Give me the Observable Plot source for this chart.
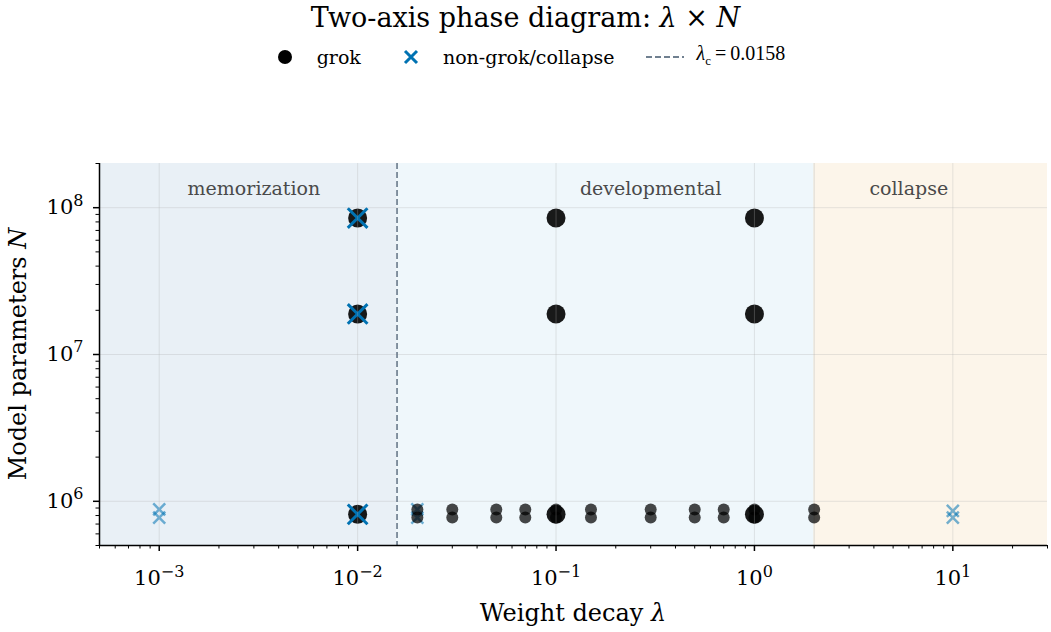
<!DOCTYPE html>
<html><head><meta charset="utf-8">
<script src="https://cdn.jsdelivr.net/npm/d3@7"></script>
<script src="https://cdn.jsdelivr.net/npm/@observablehq/plot@0.6"></script>
<style>
body{margin:0;background:#fff;font-family:"DejaVu Serif",serif;color:#000}
#wrap{position:relative;width:1051px;height:632px;overflow:hidden}
#title{position:absolute;top:0;left:0;width:1051px;text-align:center;font-family:"DejaVu Serif",serif;font-size:27px;line-height:36px}
#legend{position:absolute;top:40px;left:0;width:1051px;display:flex;justify-content:center;align-items:center;font-family:"DejaVu Serif",serif;font-size:19px;line-height:26px}
#legend .item{display:flex;align-items:center;margin:0 15.5px}
#legend svg{margin-right:13px}
#legend .math{font-family:"Liberation Serif",serif;font-size:20px}
#chart{position:absolute;top:80px;left:0}
</style></head>
<body><div id="wrap">
<div id="title">Two-axis phase diagram: <i>λ</i> × <i>N</i></div>
<div id="legend"></div>
<div id="chart"></div>
</div>
<script>
// ---- data ----
const xDomain = [5e-4, 30];
const yDomain = [5e5, 2e8];
const xTicks = [1e-3, 1e-2, 1e-1, 1, 10];
const xTickLabels = ["10⁻³", "10⁻²", "10⁻¹", "10⁰", "10¹"];
const yTicks = [1e6, 1e7, 1e8];
const yTickLabels = ["10⁶", "10⁷", "10⁸"];
const lambdaC = 0.0158;

const regionNames = ["memorization", "developmental", "collapse"];
const regionStart = [5e-4, 0.0158, 2];
const regionEnd = [0.0158, 2, 30];
const regionColors = ["#e9f0f6", "#eff7fb", "#fcf5ea"];
const regionLabelX = [0.003, 0.3, 6];
const regionLabelN = 1.35e8;

// width sweep (small markers)
const sweepGrokLambda = [0.02,0.02,0.03,0.03,0.05,0.05,0.07,0.07,0.1,0.1,0.15,0.15,0.3,0.3,0.5,0.5,0.7,0.7,1,1,2,2];
const sweepGrokN      = [8.8e5,7.75e5,8.8e5,7.75e5,8.8e5,7.75e5,8.8e5,7.75e5,8.8e5,7.75e5,8.8e5,7.75e5,8.8e5,7.75e5,8.8e5,7.75e5,8.8e5,7.75e5,8.8e5,7.75e5,8.8e5,7.75e5];
const sweepFailLambda = [0.001,0.001,0.02,0.02,10,10];
const sweepFailN      = [8.8e5,7.75e5,8.8e5,7.75e5,8.6e5,7.75e5];

// size grid (large markers)
const gridGrokLambda = [0.01,0.01,0.01,0.1,0.1,0.1,1,1,1];
const gridGrokN      = [8.15e5,1.89e7,8.5e7,8.15e5,1.89e7,8.5e7,8.15e5,1.89e7,8.5e7];
const gridFailLambda = [0.01,0.01,0.01];
const gridFailN      = [8.15e5,1.89e7,8.5e7];

// ---- build ----
const pts = (L, N) => L.map((l, i) => ({lambda: l, N: N[i]}));
const regions = regionNames.map((n, i) => ({name: n, x1: regionStart[i], x2: regionEnd[i], color: regionColors[i], lx: regionLabelX[i]}));
const xFmt = new Map(xTicks.map((t, i) => [t, xTickLabels[i]]));
const yFmt = new Map(yTicks.map((t, i) => [t, yTickLabels[i]]));
const minor = (lo, hi) => { const out = []; for (let e = -6; e <= 9; e++) for (let m = 2; m <= 9; m++) { const v = m * Math.pow(10, e); if (v >= lo * 0.999 && v <= hi * 1.001) out.push(+v.toPrecision(3)); } return out; };
const xMinor = minor(xDomain[0], xDomain[1]);
const yMinor = minor(yDomain[0], yDomain[1]);

const BLUE = "#0072B2";
const W = 1051, H = 552;
const plot = Plot.plot({
  width: W, height: H,
  marginLeft: 99, marginRight: 4, marginTop: 83, marginBottom: 87,
  style: {fontFamily: "DejaVu Serif", fontSize: "21px", background: "transparent", color: "#000"},
  x: {type: "log", domain: xDomain},
  y: {type: "log", domain: yDomain},
  marks: [
    Plot.rect(regions, {x1: "x1", x2: "x2", fill: "color"}),
    Plot.ruleX([regionStart[2]], {stroke: "#e6e2da", strokeWidth: 1.5}),
    Plot.text(regions, {x: "lx", y: () => regionLabelN, text: "name", fill: "#4a4a4a", fontSize: 19}),
    Plot.dot(pts(sweepFailLambda, sweepFailN), {x: "lambda", y: "N", r: 5.5, symbol: "times", stroke: BLUE, strokeWidth: 2.5, strokeOpacity: 0.55}),
    Plot.dot(pts(sweepGrokLambda, sweepGrokN), {x: "lambda", y: "N", r: 6, fill: "#000", fillOpacity: 0.72, stroke: "none"}),
    Plot.dot(pts(gridGrokLambda, gridGrokN), {x: "lambda", y: "N", r: 9.5, fill: "#000", fillOpacity: 0.9, stroke: "none"}),
    Plot.dot(pts(gridFailLambda, gridFailN), {x: "lambda", y: "N", r: 9, symbol: "times", stroke: BLUE, strokeWidth: 3}),
    Plot.gridX(xTicks, {stroke: "#b0b0b0", strokeOpacity: 0.3, strokeWidth: 1}),
    Plot.gridY(yTicks, {stroke: "#b0b0b0", strokeOpacity: 0.3, strokeWidth: 1}),
    Plot.ruleX([lambdaC], {stroke: "#708090", strokeOpacity: 0.95, strokeWidth: 1.8, strokeDasharray: "6,3"}),
    Plot.ruleX([xDomain[0]], {stroke: "#000", strokeWidth: 1.5}),
    Plot.ruleY([yDomain[0]], {stroke: "#000", strokeWidth: 1.5}),
    Plot.axisX(xMinor, {tickSize: 3.5, strokeWidth: 1, tickFormat: () => "", label: null}),
    Plot.axisX(xTicks, {tickSize: 6, strokeWidth: 1.5, tickPadding: 19, tickFormat: d => xFmt.get(d), label: null, fontSize: 21}),
    Plot.axisY(yMinor, {tickSize: 3.5, strokeWidth: 1, tickFormat: () => "", label: null}),
    Plot.axisY(yTicks, {tickSize: 6, strokeWidth: 1.5, tickPadding: 10, tickFormat: d => yFmt.get(d), label: null, fontSize: 21})
  ]
});
document.getElementById("chart").appendChild(plot);

const svg = d3.select(plot);
// render unicode superscripts as real superscript tspans
const supMap = {"⁻":"−","⁰":"0","¹":"1","²":"2","³":"3","⁴":"4","⁵":"5","⁶":"6","⁷":"7","⁸":"8","⁹":"9"};
svg.selectAll("text").each(function () {
  const t = this.textContent;
  const m = /^10([⁻⁰¹²³⁴⁵⁶⁷⁸⁹]+)$/.exec(t);
  if (!m) return;
  const sup = [...m[1]].map(c => supMap[c]).join("");
  this.textContent = "";
  const s = d3.select(this);
  s.append("tspan").text("10");
  s.append("tspan").attr("font-size", 16).attr("dy", "-0.55em").text(sup);
});

// axis titles with italic math symbols
const xl = svg.append("text").attr("x", 573).attr("y", 533).attr("text-anchor", "middle").attr("dy", "0.35em")
  .attr("font-family", "DejaVu Serif").attr("font-size", 24).attr("fill", "#000");
xl.append("tspan").text("Weight decay ");
xl.append("tspan").attr("font-style", "italic").text("λ");
const yl = svg.append("text").attr("transform", "translate(18,274) rotate(-90)").attr("text-anchor", "middle").attr("dy", "0.35em")
  .attr("font-family", "DejaVu Serif").attr("font-size", 24).attr("fill", "#000");
yl.append("tspan").text("Model parameters ");
yl.append("tspan").attr("font-style", "italic").text("N");

// legend
const leg = document.getElementById("legend");
const items = [
  {svg: `<svg width="38" height="16"><circle cx="19" cy="8" r="7" fill="#000"/></svg>`, label: "grok"},
  {svg: `<svg width="38" height="16"><path d="M13,2L25,14M25,2L13,14" stroke="${BLUE}" stroke-width="3"/></svg>`, label: "non-grok/collapse"},
  {svg: `<svg width="38" height="16"><line x1="0" y1="8" x2="38" y2="8" stroke="#708090" stroke-width="1.8" stroke-dasharray="6,3"/></svg>`, label: `<span class="math"><i>λ</i><sub style="font-size:13px">c</sub>&thinsp;=&thinsp;${lambdaC}</span>`}
];
for (const it of items) {
  const d = document.createElement("div"); d.className = "item";
  d.innerHTML = it.svg + `<span>${it.label}</span>`;
  leg.appendChild(d);
}
</script>
</body></html>
